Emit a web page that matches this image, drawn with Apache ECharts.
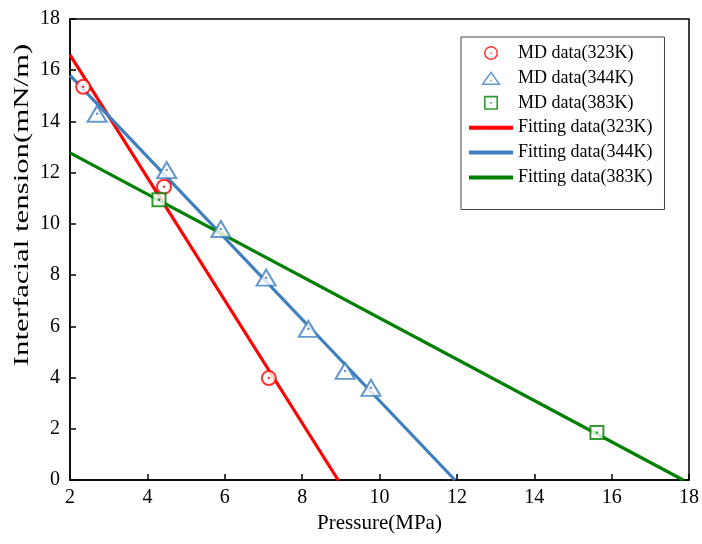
<!DOCTYPE html>
<html><head><meta charset="utf-8">
<script src="https://cdn.jsdelivr.net/npm/echarts@6/dist/echarts.min.js"></script>
<style>html,body{margin:0;padding:0;background:#fff}#c{width:702px;height:544px}</style>
</head><body><div id="c"></div>
<script>
const md323 = [[2.34,15.35],[4.43,11.45],[7.14,3.98]];
const md344 = [[2.70,14.3],[4.50,12.1],[5.90,9.8],[7.07,7.9],[8.16,5.9],[9.11,4.26],[9.78,3.6]];
const md383 = [[4.30,10.94],[15.62,1.85]];
const fit323 = [[2,16.6],[8.93,0]];
const fit344 = [[2,15.8],[11.95,0]];
const fit383 = [[2,12.77],[17.85,0]];
const seriesNames = ['MD data(323K)','MD data(344K)','MD data(383K)','Fitting data(323K)','Fitting data(344K)','Fitting data(383K)'];
const xName = 'Pressure(MPa)';
const yName = 'Interfacial tension(mN/m)';

const RED='#ff0000', BLUE='#3f7fbf', GREEN='#008000';
const font='"Liberation Serif", "Times New Roman", serif';
const lineIcon='path://M0,0H44V4H0Z';
const circIcon='path://M0,7A7,7 0 1,1 14,7A7,7 0 1,1 0,7Z M1.5,7A5.5,5.5 0 1,0 12.5,7A5.5,5.5 0 1,0 1.5,7Z M6.3,6.3H7.7V7.7H6.3Z';
const triIcon='path://M9.5,0L19,13.5L0,13.5Z M9.5,2.6L2.9,12.2L16.1,12.2Z M8.8,8.6H10.2V10H8.8Z';
const rectIcon='path://M0,0H13V13H0Z M1.5,1.5V11.5H11.5V1.5Z M5.8,5.8H7.2V7.2H5.8Z';
function dots(d,c){return {type:'scatter',data:d,symbol:'circle',symbolSize:2.5,itemStyle:{color:c},silent:true,z:6};}
const chart = echarts.init(document.getElementById('c'));
chart.setOption({
  animation:false,
  textStyle:{fontFamily:font},
  grid:{left:70,right:13,top:19,bottom:64,show:true,borderColor:'#000',borderWidth:1.5},
  xAxis:{type:'value',min:2,max:18,interval:2,
    name:xName,nameLocation:'middle',nameGap:26,
    nameTextStyle:{fontFamily:font,fontSize:21,color:'#000'},
    axisLine:{lineStyle:{color:'#000',width:1.5}},
    axisTick:{inside:true,length:6,lineStyle:{color:'#000',width:1.5}},
    axisLabel:{fontFamily:font,fontSize:20,color:'#000',margin:8},
    splitLine:{show:false}},
  yAxis:{type:'value',min:0,max:18,interval:2,
    axisLine:{show:true,lineStyle:{color:'#000',width:1.5}},
    axisTick:{show:true,inside:true,length:6,lineStyle:{color:'#000',width:1.5}},
    axisLabel:{fontFamily:font,fontSize:20,color:'#000',margin:10},
    splitLine:{show:false}},
  graphic:[{type:'text',x:22,y:205,rotation:Math.PI/2,scaleX:1.4,
    style:{text:yName,font:'22px '+font,fill:'#000',textAlign:'center',textVerticalAlign:'middle'}}],
  legend:{orient:'vertical',left:461,top:37,itemWidth:44,itemHeight:14,itemGap:6.9,
    padding:[7,12,23,8],borderColor:'#444',borderWidth:1,
    textStyle:{fontFamily:font,fontSize:18,color:'#000'},
    data:[
      {name:seriesNames[0],icon:circIcon,itemStyle:{color:RED,borderWidth:0}},
      {name:seriesNames[1],icon:triIcon,itemStyle:{color:BLUE,borderWidth:0}},
      {name:seriesNames[2],icon:rectIcon,itemStyle:{color:GREEN,borderWidth:0}},
      {name:seriesNames[3],icon:lineIcon,itemStyle:{borderWidth:0}},
      {name:seriesNames[4],icon:lineIcon,itemStyle:{borderWidth:0}},
      {name:seriesNames[5],icon:lineIcon,itemStyle:{borderWidth:0}}]},
  series:[
    {name:seriesNames[3],type:'line',data:fit323,showSymbol:false,symbol:'none',symbolKeepAspect:true,lineStyle:{color:RED,width:3.2},itemStyle:{color:RED},z:2},
    {name:seriesNames[4],type:'line',data:fit344,showSymbol:false,symbol:'none',symbolKeepAspect:true,lineStyle:{color:BLUE,width:3.2},itemStyle:{color:BLUE},z:2},
    {name:seriesNames[5],type:'line',data:fit383,showSymbol:false,symbol:'none',symbolKeepAspect:true,lineStyle:{color:GREEN,width:3.2},itemStyle:{color:GREEN},z:2},
    {name:seriesNames[0],type:'scatter',data:md323,symbol:'emptyCircle',symbolSize:14,symbolKeepAspect:true,itemStyle:{color:RED,borderColor:RED,borderWidth:2},z:5},
    {name:seriesNames[1],type:'scatter',data:md344,symbol:'emptyTriangle',symbolSize:[19,16],symbolKeepAspect:true,itemStyle:{color:BLUE,borderColor:BLUE,borderWidth:2},z:5},
    {name:seriesNames[2],type:'scatter',data:md383,symbol:'emptyRect',symbolSize:13,symbolKeepAspect:true,itemStyle:{color:GREEN,borderColor:GREEN,borderWidth:2},z:5},
    dots(md323,RED),dots(md344,BLUE),dots(md383,GREEN)
  ]
});
</script></body></html>
